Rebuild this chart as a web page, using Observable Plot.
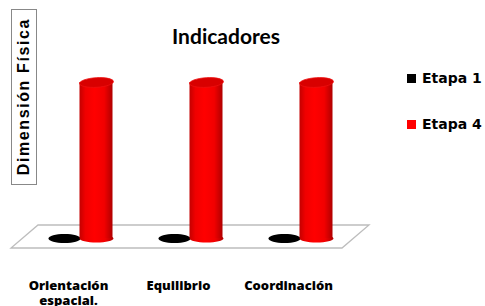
<!DOCTYPE html>
<html>
<head>
<meta charset="utf-8">
<script src="https://cdn.jsdelivr.net/npm/d3@7"></script>
<script src="https://cdn.jsdelivr.net/npm/@observablehq/plot@0.6"></script>
<style>
  html, body { margin: 0; padding: 0; background: #fff; }
  #wrap { position: relative; width: 485px; height: 306px; overflow: hidden; }
  #title { position: absolute; left: 0; width: 452px; top: 23px; text-align: center;
           font: bold 21px Lato, sans-serif; color: #000; line-height: 26px; }
  #ylab { position: absolute; left: 11px; top: 9px; width: 24px; height: 174px;
          border: 1px solid #888; display: flex; align-items: center; justify-content: center; }
  #ylab span { writing-mode: vertical-rl; transform: rotate(180deg);
               font: bold 16px "Liberation Sans", Arial, sans-serif; letter-spacing: 1.6px; }
  .leg { position: absolute; left: 407px; font: bold 14px "DejaVu Sans", sans-serif; line-height: 16px; display: flex; align-items: center; }
  .leg i { display: inline-block; width: 9px; height: 9px; margin-right: 6px; }
  g[aria-label="x-axis tick label"] text { font-weight: 800; }
</style>
</head>
<body>
<div id="wrap"></div>
<script>
const categories = ["Orientación espacial.", "Equilibrio", "Coordinación"];
const categoryLabels = ["Orientación\nespacial.", "Equilibrio", "Coordinación"];
const series = ["Etapa 1", "Etapa 4"];
const etapa1 = [0, 0, 0];
const etapa4 = [100, 100, 100];
const colors = ["#000000", "#ff0000"];

const rows = categories.flatMap((c, i) => [
  {cat: c, serie: series[0], value: etapa1[i]},
  {cat: c, serie: series[1], value: etapa4[i]}
]);
const r1 = rows.filter(d => d.serie === series[0]);
const r4 = rows.filter(d => d.serie === series[1]);

function ellipse(rx, ry, tilt = 0) {
  const k = 0.5523;
  return {
    draw(ctx) {
      const c = Math.cos(tilt), s = Math.sin(tilt);
      const P = (x, y) => [x * c - y * s, x * s + y * c];
      const pts = [
        [rx, 0], [rx, k*ry], [k*rx, ry], [0, ry],
        [-k*rx, ry], [-rx, k*ry], [-rx, 0],
        [-rx, -k*ry], [-k*rx, -ry], [0, -ry],
        [k*rx, -ry], [rx, -k*ry], [rx, 0]
      ].map(p => P(p[0], p[1]));
      ctx.moveTo(...pts[0]);
      for (let i = 1; i < pts.length; i += 3) ctx.bezierCurveTo(...pts[i], ...pts[i+1], ...pts[i+2]);
      ctx.closePath();
    }
  };
}

// Floor (3D base) drawn from the x/y scales
function floor(index, scales, values, dims) {
  const [x0, x1] = scales.x.range();
  const y0 = scales.y(0);
  const p = d3.path();
  p.moveTo(x0 + 14.5, y0 - 13);
  p.lineTo(x1 + 13.5, y0 - 13);
  p.lineTo(x1 - 13.5, y0 + 10);
  p.lineTo(x0 - 12.5, y0 + 10);
  p.closePath();
  const el = d3.create("svg:path").attr("d", p.toString())
    .attr("fill", "#fff").attr("stroke", "#bdbdbd").attr("stroke-width", 1.3);
  return el.node();
}

const chart = Plot.plot({
  width: 485,
  height: 306,
  marginLeft: 23.5,
  marginRight: 129.5,
  marginTop: 82,
  marginBottom: 68,
  x: {domain: categories, padding: 0, axis: null},
  y: {domain: [0, 100], axis: null},
  style: {background: "transparent"},
  marks: [
    floor,
    Plot.dot(r1, {x: "cat", y: "value", dx: -16, fill: colors[0], r: 5, symbol: ellipse(16, 4.5)}),
    Plot.dot(r4, {x: "cat", y: 0, dx: 16, fill: "url(#cylgrad)", r: 5, symbol: ellipse(17, 4)}),
    Plot.barY(r4, {x: "cat", y: "value", dx: 16, insetLeft: 38.5, insetRight: 38.5, fill: "url(#cylgrad)"}),
    Plot.dot(r4, {x: "cat", y: "value", dx: 16, fill: "#d80000", stroke: "#ee1010", strokeWidth: 0.8, r: 5, symbol: ellipse(17, 4.8, -0.06)}),
    Plot.axisX({label: null, tickSize: 0, tickPadding: 0, dx: -12, dy: 41, fontSize: 13,
                fontFamily: "'Open Sans', sans-serif", lineHeight: 1.15,
                tickFormat: d => categoryLabels[categories.indexOf(d)]})
  ]
});

const defs = d3.select(chart).insert("defs", ":first-child");
const g = defs.append("linearGradient").attr("id", "cylgrad")
  .attr("x1", "0%").attr("x2", "100%").attr("y1", "0%").attr("y2", "0%")
  .attr("gradientUnits", "objectBoundingBox");
[["0%", "#c40000"], ["18%", "#f00000"], ["45%", "#ff0000"], ["75%", "#f20000"], ["100%", "#b00000"]]
  .forEach(([o, c]) => g.append("stop").attr("offset", o).attr("stop-color", c));

const wrap = document.getElementById("wrap");
wrap.appendChild(chart);
chart.style.position = "absolute"; chart.style.left = "0"; chart.style.top = "0";

const title = document.createElement("div"); title.id = "title"; title.textContent = "Indicadores";
wrap.appendChild(title);
const ylab = document.createElement("div"); ylab.id = "ylab";
ylab.innerHTML = "<span>Dimensión Física</span>";
wrap.appendChild(ylab);
[[series[0], colors[0], 70], [series[1], colors[1], 116]].forEach(([s, c, t]) => {
  const d = document.createElement("div"); d.className = "leg"; d.style.top = t + "px";
  d.innerHTML = `<i style="background:${c}"></i><span>${s}</span>`;
  wrap.appendChild(d);
});
</script>
</body>
</html>
